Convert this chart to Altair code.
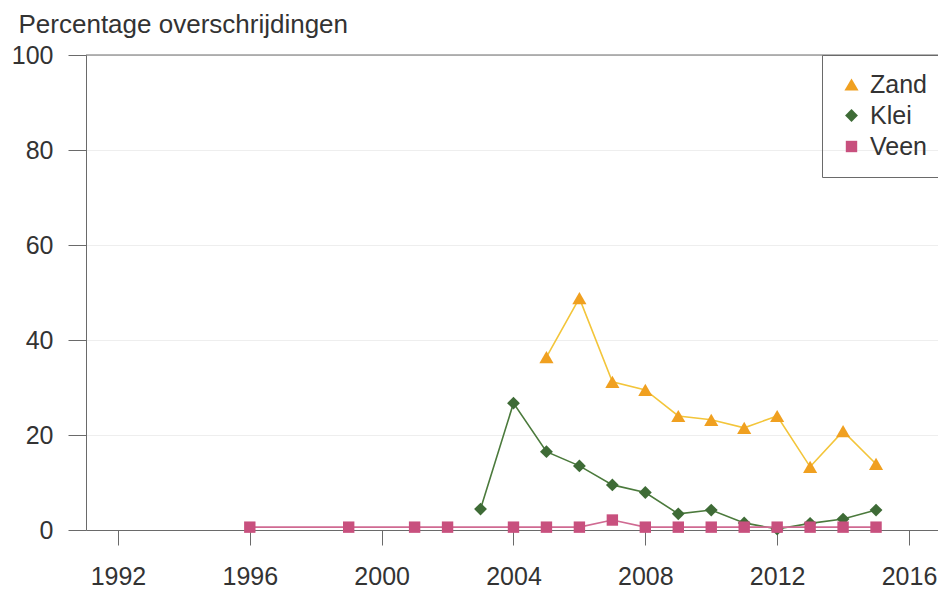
import altair as alt
import pandas as pd

zand_years = [2005, 2006, 2007, 2008, 2009, 2010, 2011, 2012, 2013, 2014, 2015]
zand_vals = [36.4, 48.8, 31.2, 29.5, 24.0, 23.2, 21.5, 24.0, 13.3, 20.8, 13.9]
klei_years = [2003, 2004, 2005, 2006, 2007, 2008, 2009, 2010, 2011, 2012, 2013, 2014, 2015]
klei_vals = [4.4, 26.7, 16.5, 13.5, 9.5, 7.9, 3.4, 4.2, 1.5, 0.2, 1.4, 2.3, 4.2]
veen_years = [1996, 1999, 2001, 2002, 2004, 2005, 2006, 2007, 2008, 2009, 2010, 2011, 2012, 2013, 2014, 2015]
veen_vals = [0.6, 0.6, 0.6, 0.6, 0.6, 0.6, 0.6, 2.1, 0.6, 0.6, 0.6, 0.6, 0.6, 0.6, 0.6, 0.6]

x_ticks = [1992, 1996, 2000, 2004, 2008, 2012, 2016]
y_ticks = [0, 20, 40, 60, 80, 100]
series = ["Zand", "Klei", "Veen"]
marker_colors = ["#F0A020", "#3E6B36", "#C8507E"]
line_colors = ["#F3C53A", "#4B7A3C", "#D06A92"]
shapes = ["triangle-up", "diamond", "square"]

rows = []
for name, ys, vs in [("Zand", zand_years, zand_vals), ("Klei", klei_years, klei_vals), ("Veen", veen_years, veen_vals)]:
    for y, v in zip(ys, vs):
        rows.append({"jaar": y, "waarde": v, "bodem": name})
df = pd.DataFrame(rows)

FONT = "Liberation Sans"
TXT = "#333333"
AX = "#6a6a6a"
xscale = alt.Scale(domain=[1991.03, 2016.88], nice=False, zero=False)
yscale = alt.Scale(domain=[0, 100], nice=False)

x_enc = alt.X("jaar:Q", scale=xscale,
              axis=alt.Axis(values=x_ticks, format="d", title=None, grid=False,
                            tickSize=15, labelPadding=19, labelFontSize=25,
                            labelColor=TXT, labelFont=FONT,
                            domainColor=AX, tickColor=AX, labelFlush=False))
y_enc = alt.Y("waarde:Q", scale=yscale,
              axis=alt.Axis(values=y_ticks, title="Percentage overschrijdingen",
                            titleAngle=0, titleAlign="left", titleBaseline="alphabetic",
                            titleX=-68, titleY=-23, titleFontSize=26,
                            titleFontWeight="normal", titleColor=TXT, titleFont=FONT,
                            tickSize=18, labelPadding=15, labelFontSize=25,
                            labelColor=TXT, labelFont=FONT,
                            domainColor=AX, tickColor=AX,
                            grid=True, gridColor="#eeeeee"))

legend = alt.Legend(title=None, orient="none", legendX=736, legendY=0,
                    strokeColor=AX, padding=17,
                    labelFontSize=25, labelFont=FONT, labelColor=TXT,
                    symbolSize=100, rowPadding=5, labelOffset=6, symbolOffset=0,
                    symbolStrokeWidth=0)

base = alt.Chart(df)
line_layers = []
for name, col in zip(series, line_colors):
    line_layers.append(
        base.transform_filter(alt.datum.bodem == name).mark_line(strokeWidth=1.6, color=col).encode(
            x=x_enc, y=y_enc, order="jaar:Q"
        )
    )

points = base.mark_point(filled=True, opacity=1).encode(
    x="jaar:Q", y="waarde:Q",
    color=alt.Color("bodem:N", scale=alt.Scale(domain=series, range=marker_colors), legend=legend),
    shape=alt.Shape("bodem:N", scale=alt.Scale(domain=series, range=shapes), legend=legend),
    size=alt.Size("bodem:N", scale=alt.Scale(domain=series, range=[200, 130, 110]), legend=None),
)

top = alt.Chart(pd.DataFrame({"v": [100]})).mark_rule(color=AX, strokeWidth=1).encode(
    y=alt.Y("v:Q", scale=yscale), x=alt.value(0), x2=alt.value(852)
)

chart = alt.layer(*line_layers, top, points).properties(
    width=852, height=475,
    autosize=alt.AutoSizeParams(type="none"),
    padding={"left": 78, "top": 47, "right": 0, "bottom": 62},
).configure_view(stroke=None).configure(background="white")

chart.save("out.html", embed_options={"renderer": "svg", "actions": False})
